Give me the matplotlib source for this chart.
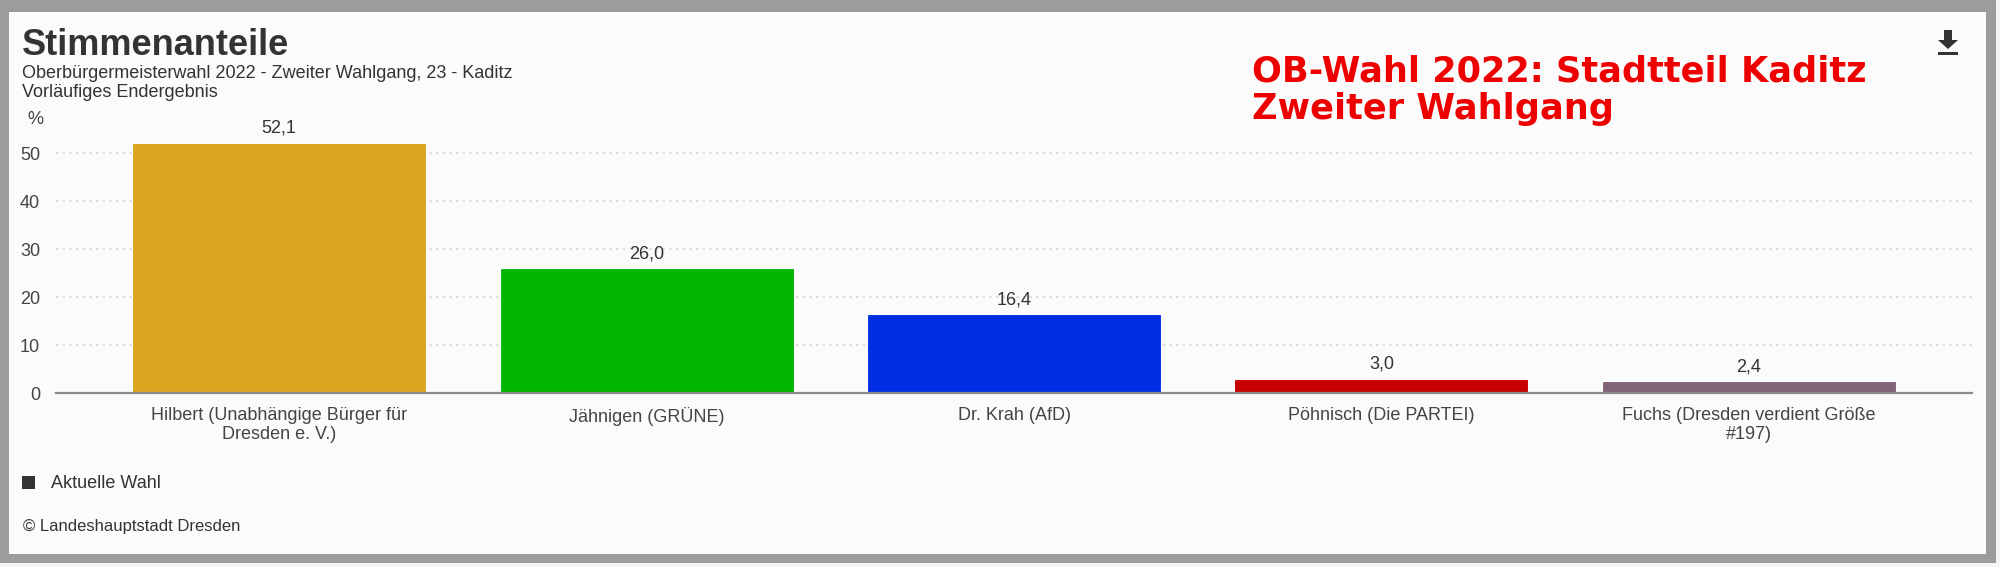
import matplotlib
matplotlib.use("Agg")
import matplotlib.pyplot as plt
from matplotlib.patches import Rectangle, Polygon

# data
candidates = [
    "Hilbert (Unabhängige Bürger für\nDresden e. V.)",
    "Jähnigen (GRÜNE)",
    "Dr. Krah (AfD)",
    "Pöhnisch (Die PARTEI)",
    "Fuchs (Dresden verdient Größe\n#197)",
]
shares = [52.1, 26.0, 16.4, 3.0, 2.4]
bar_colors = ["#daa520", "#00b500", "#002fe3", "#c90000", "#81637a"]
y_ticks = [0, 10, 20, 30, 40, 50]

W, H = 2000, 567
plt.rcParams["font.family"] = ["Liberation Sans", "DejaVu Sans"]


def px(x, y):
    """pixel coords (from top-left) -> figure fraction"""
    return x / W, 1 - y / H


fig = plt.figure(figsize=(W / 100, H / 100), dpi=100, facecolor="#9c9c9c")

# inner panel + light strips outside the grey frame (behind the axes)
fig.patches.append(Rectangle(px(9, 554), 1977 / W, 542 / H, transform=fig.transFigure,
                             facecolor="#fbfbfb", edgecolor="none", zorder=-2))
fig.patches.append(Rectangle(px(0, 567), 1, 4 / H, transform=fig.transFigure,
                             facecolor="#f4f4f4", edgecolor="none", zorder=-2))
fig.patches.append(Rectangle(px(1996, 567), 4 / W, 1, transform=fig.transFigure,
                             facecolor="#f4f4f4", edgecolor="none", zorder=-2))

l, b = px(56, 393)
_, t = px(0, 120)
ax = fig.add_axes([l, b, 1916 / W, t - b])
ax.set_facecolor("none")

x = range(len(candidates))
ax.bar(x, shares, width=0.8, color=bar_colors, edgecolor="white", linewidth=0.8, zorder=3)
for xi, v in zip(x, shares):
    ax.annotate(f"{v:.1f}".replace(".", ","), (xi, v), xytext=(0, 4.5),
                textcoords="offset points", ha="center", va="bottom",
                fontsize=13, color="#333333")

ax.set_xlim(-0.607, 4.607)
ax.set_ylim(0, 56.9)
ax.set_yticks(y_ticks)
ax.set_yticklabels([str(v) for v in y_ticks])
ax.set_xticks(list(x))
ax.set_xticklabels(candidates, fontsize=13, color="#444444", linespacing=1.15)
ax.tick_params(axis="y", length=0, pad=11.5, labelsize=13, labelcolor="#444444")
ax.tick_params(axis="x", length=0, pad=10)
ax.yaxis.grid(True, color="#dadada", linestyle=(0, (1.5, 2.5)), linewidth=1.2, zorder=0)
for s in ["top", "right", "left"]:
    ax.spines[s].set_visible(False)
ax.spines["bottom"].set_color("#8a8a8a")
ax.spines["bottom"].set_linewidth(1.6)
ax.spines["bottom"].set_zorder(4)

# header texts
fig.text(*px(22, 55), "Stimmenanteile", fontsize=26, fontweight="bold",
         color="#333333", va="baseline")
fig.text(*px(22, 78), "Oberbürgermeisterwahl 2022 - Zweiter Wahlgang, 23 - Kaditz",
         fontsize=13, color="#333333", va="baseline")
fig.text(*px(22, 97), "Vorläufiges Endergebnis", fontsize=13, color="#333333", va="baseline")
fig.text(*px(27, 119), "%", fontsize=13, color="#444444", va="center")

# red annotation
fig.text(*px(1252, 82), "OB-Wahl 2022: Stadtteil Kaditz", fontsize=25.3, fontweight="bold",
         family="DejaVu Sans", color="#ee0000", va="baseline")
fig.text(*px(1252, 119), "Zweiter Wahlgang", fontsize=25.3, fontweight="bold",
         family="DejaVu Sans", color="#ee0000", va="baseline")

# download icon
icon = "#333333"
fig.patches.append(Polygon([px(1944, 30), px(1952, 30), px(1952, 40), px(1958, 40),
                            px(1948, 49), px(1938, 40), px(1944, 40)],
                           closed=True, transform=fig.transFigure, facecolor=icon,
                           edgecolor="none"))
fig.patches.append(Rectangle(px(1938, 55), 20 / W, 3 / H, transform=fig.transFigure,
                             facecolor=icon, edgecolor="none"))

# legend + credit
fig.patches.append(Rectangle(px(22, 489), 13 / W, 13 / H, transform=fig.transFigure,
                             facecolor="#333333", edgecolor="none"))
fig.text(*px(51, 483), "Aktuelle Wahl", fontsize=13, color="#333333", va="center")
fig.text(*px(23, 527), "© Landeshauptstadt Dresden", fontsize=12, color="#333333", va="center")

fig.savefig("out.png", dpi=100, facecolor=fig.get_facecolor())
